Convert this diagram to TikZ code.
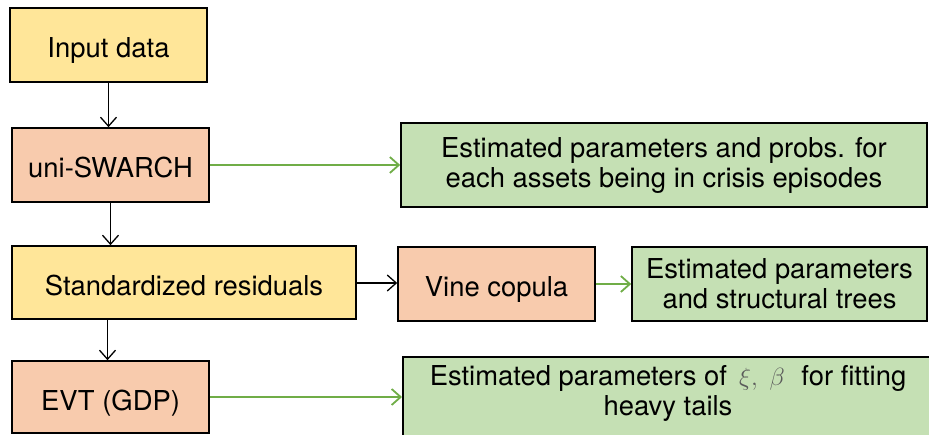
\documentclass[tikz,border=0pt]{standalone}
\usepackage{fontspec}
\setmainfont{TeX Gyre Heros}
\usetikzlibrary{arrows.meta,positioning}

\definecolor{boxyellow}{HTML}{FFE699}
\definecolor{boxsalmon}{HTML}{F8CBAD}
\definecolor{boxgreen}{HTML}{C5E0B4}
\definecolor{linkgreen}{HTML}{70AD47}
\definecolor{symgray}{HTML}{5A5A5A}

\tikzset{
  basebox/.style={draw=black, line width=1.6pt, inner sep=0pt, align=center,
    font=\fontsize{27.4}{30}\selectfont},
  oneline/.style={text height=26pt, text depth=0pt},
  inputbox/.style={basebox, fill=boxyellow},
  modelbox/.style={basebox, fill=boxsalmon},
  resultbox/.style={basebox, fill=boxgreen},
  flow/.style={draw=black, line width=1.3pt, -{Straight Barb[length=9pt,width=16pt,line width=1.3pt]}},
  result/.style={draw=linkgreen, line width=1.8pt, -{Straight Barb[length=9pt,width=16pt,line width=1.8pt]}},
}

\begin{document}
\begin{tikzpicture}[x=1pt,y=-1pt]
  \useasboundingbox (0,0) rectangle (929,435);

  % left column: data and model steps
  \node[inputbox, oneline, minimum width=197pt, minimum height=74pt] (input) at (108.5,45) {Input data};
  \node[modelbox, oneline, minimum width=197pt, minimum height=74pt] (uni) at (110.5,165) {uni-SWARCH};
  \node[inputbox, oneline, minimum width=344pt, minimum height=73pt] (std) at (184,282.5) {Standardized residuals};
  \node[modelbox, oneline, minimum width=197pt, minimum height=72pt] (evt) at (110.5,397) {EVT (GDP)};

  % copula step
  \node[modelbox, oneline, minimum width=197pt, minimum height=74pt] (vine) at (496.5,284) {Vine copula};

  % estimated outputs
  \node[resultbox, minimum width=526pt, minimum height=84pt] (g1) at (664,165)
    {Estimated parameters and probs. for\\each assets being in crisis episodes};
  \node[resultbox, minimum width=295pt, minimum height=74pt] (g2) at (779.5,284)
    {Estimated parameters\\and structural trees};
  \node[resultbox, minimum width=536pt, minimum height=90pt, anchor=north west] (g3) at (402,356) {};
  \node[align=center, font=\fontsize{27.4}{30}\selectfont, inner sep=0pt] (g3text) at (668,393.5)
    {Estimated parameters of \,{\color{symgray}$\xi,\ \beta$}\,\, for fitting\\heavy tails};

  % main flow
  \draw[flow] (input.south) -- (input.south |- uni.north);
  \draw[flow] (uni.south) -- (uni.south |- std.north);
  \draw[flow] (std.south -| evt.north) ++(-3,0) coordinate (stdout) -- (stdout |- evt.north);
  \draw[flow] (std.east) ++(0,0.5) coordinate (stdr) -- (stdr -| vine.west);

  % links to the estimated outputs
  \draw[result] (uni.east) -- (uni.east -| g1.west);
  \draw[result] (vine.east) -- (vine.east -| g2.west);
  \draw[result] (evt.east) -- (evt.east -| g3.west);
\end{tikzpicture}
\end{document}
